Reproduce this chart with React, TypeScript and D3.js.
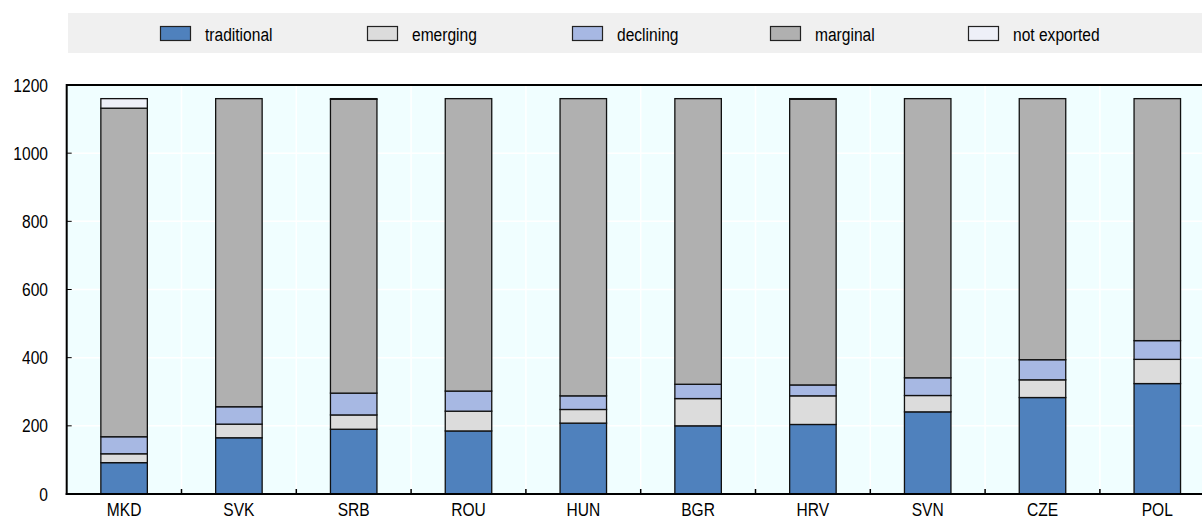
import * as d3 from "d3";
import { useEffect, useRef } from "react";

// categories and series
const countries = ["MKD", "SVK", "SRB", "ROU", "HUN", "BGR", "HRV", "SVN", "CZE", "POL"];
const seriesNames = ["traditional", "emerging", "declining", "marginal", "not exported"];

// values
const traditional = [92, 165, 190, 185, 208, 200, 204, 241, 283, 324];
const emerging = [26, 40, 42, 58, 40, 80, 84, 48, 52, 71];
const declining = [50, 51, 64, 59, 40, 42, 32, 52, 59, 55];
const marginal = [964, 904, 862, 858, 872, 838, 838, 819, 766, 710];
const notExported = [28, 0, 2, 0, 0, 0, 2, 0, 0, 0];

const yTicks = [0, 200, 400, 600, 800, 1000, 1200];

const colors = ["#4f81bd", "#dcdcdc", "#a7b8e3", "#b0b0b0", "#eef0f8"];
const legendX = [160, 367, 572, 770, 968];

const FONT = "'Liberation Sans', Arial, sans-serif";
const SQUEEZE = 0.82; // the original uses a condensed face

const App = () => {
  const svgRef = useRef<SVGSVGElement>(null);
  const width = 1202;
  const height = 520;

  useEffect(() => {
    const svg = d3.select(svgRef.current);
    svg.selectAll("*").remove();

    const left = 66.7;
    const top = 85;
    const bottom = 494;
    const step = 114.8;

    const rows = countries.map((c, i) => ({
      country: c,
      traditional: traditional[i],
      emerging: emerging[i],
      declining: declining[i],
      marginal: marginal[i],
      "not exported": notExported[i],
    }));

    const x = d3.scaleBand().domain(countries).range([left, left + step * countries.length]).padding(0);
    const y = d3.scaleLinear().domain([0, 1200]).range([bottom, top]);
    const color = d3.scaleOrdinal<string>().domain(seriesNames).range(colors);

    // condensed text helper
    const label = (sel: any, fx: (d: any, i: number) => number, fy: (d: any, i: number) => number) =>
      sel.attr("transform", (d: any, i: number) => `translate(${fx(d, i)},${fy(d, i)}) scale(${SQUEEZE},1)`)
        .attr("font-family", FONT).attr("font-size", 19).attr("fill", "#000");

    // legend band
    svg.append("rect").attr("x", 68).attr("y", 13).attr("width", width - 68).attr("height", 40).attr("fill", "#f0f0f0");
    const lg = svg.selectAll(".lg").data(seriesNames).enter().append("g")
      .attr("transform", (d, i) => `translate(${legendX[i]},26)`);
    lg.append("rect").attr("x", 0.5).attr("y", 0.5).attr("width", 30).attr("height", 14)
      .attr("fill", (d) => color(d)).attr("stroke", "#222").attr("stroke-width", 1.2);
    label(lg.append("text"), () => 45, () => 14.5).text((d: string) => d);

    // plot background
    svg.append("rect").attr("x", left).attr("y", top).attr("width", width - left).attr("height", bottom - top).attr("fill", "#f0feff");

    // grid
    svg.append("g").selectAll("line").data(yTicks.slice(1, -1)).enter().append("line")
      .attr("x1", left).attr("x2", width).attr("y1", (d) => y(d)).attr("y2", (d) => y(d))
      .attr("stroke", "#fff").attr("stroke-width", 1.5);
    svg.append("g").selectAll("line").data(countries.slice(1)).enter().append("line")
      .attr("x1", (d) => x(d)!).attr("x2", (d) => x(d)!).attr("y1", top).attr("y2", bottom)
      .attr("stroke", "#fff").attr("stroke-width", 1.5);

    // bars
    const stacked = d3.stack<any>().keys(seriesNames)(rows);
    const bw = step * 0.405;
    svg.append("g").selectAll("g").data(stacked).enter().append("g")
      .attr("fill", (d) => color(d.key))
      .selectAll("rect").data((d) => d.filter((p) => p[1] - p[0] > 0)).enter().append("rect")
      .attr("x", (d) => x(d.data.country)! + (step - bw) / 2)
      .attr("y", (d) => y(d[1]))
      .attr("width", bw)
      .attr("height", (d) => y(d[0]) - y(d[1]))
      .attr("stroke", "#111")
      .attr("stroke-width", 1.3);

    // axes frame
    svg.append("line").attr("x1", left).attr("x2", width).attr("y1", top).attr("y2", top).attr("stroke", "#000").attr("stroke-width", 2);
    svg.append("line").attr("x1", left).attr("x2", left).attr("y1", top - 1).attr("y2", bottom + 1).attr("stroke", "#000").attr("stroke-width", 2);
    svg.append("line").attr("x1", left - 1).attr("x2", width).attr("y1", bottom).attr("y2", bottom).attr("stroke", "#000").attr("stroke-width", 2);

    // x ticks between categories
    svg.append("g").selectAll("line").data(countries.slice(1)).enter().append("line")
      .attr("x1", (d) => x(d)!).attr("x2", (d) => x(d)!).attr("y1", bottom).attr("y2", bottom - 5)
      .attr("stroke", "#000").attr("stroke-width", 1.5);

    // y ticks + labels
    svg.append("g").selectAll("line").data(yTicks.slice(1, -1)).enter().append("line")
      .attr("x1", left).attr("x2", left + 5).attr("y1", (d) => y(d)).attr("y2", (d) => y(d))
      .attr("stroke", "#000").attr("stroke-width", 1);
    label(
      svg.append("g").selectAll("text").data(yTicks).enter().append("text")
        .attr("dy", "0.35em").attr("text-anchor", "end"),
      () => 48,
      (d) => y(d)
    ).text((d: number) => d);

    // x labels
    label(
      svg.append("g").selectAll("text").data(countries).enter().append("text").attr("text-anchor", "middle"),
      (d) => x(d)! + step / 2,
      () => 515.5
    ).text((d: string) => d);
  }, []);

  return (
    <div style={{ position: "absolute", left: 0, top: 0 }}>
      <svg ref={svgRef} width={width} height={height} style={{ display: "block", background: "#fff" }} />
    </div>
  );
};

export default App;
